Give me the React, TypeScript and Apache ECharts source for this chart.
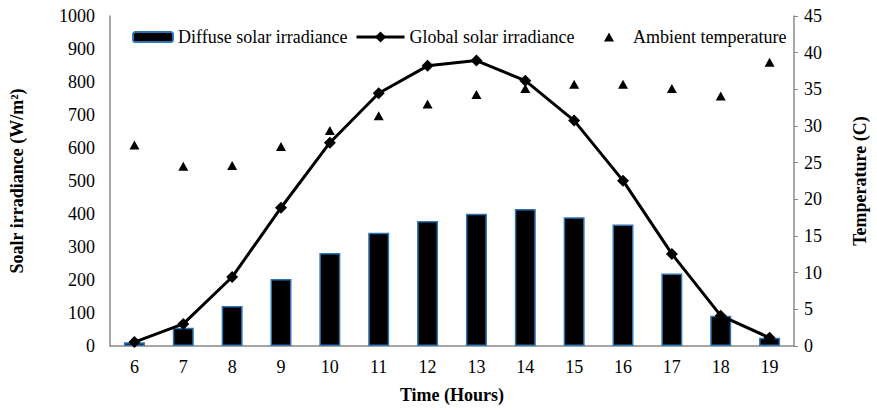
import React, { useEffect, useRef } from "react";
import * as echarts from "echarts";

const hours = ["6", "7", "8", "9", "10", "11", "12", "13", "14", "15", "16", "17", "18", "19"];
const diffuse = [11, 55, 121, 203, 282, 343, 379, 401, 415, 390, 368, 220, 92, 25];
const globalIrr = [12, 67, 209, 419, 616, 766, 849, 865, 804, 683, 501, 279, 92, 25];
const temperature = [27.4, 24.5, 24.6, 27.2, 29.4, 31.4, 33.0, 34.3, 35.1, 35.7, 35.7, 35.1, 34.1, 38.7];

const FONT = "Liberation Serif";
const AXIS = "#898989";

export default function App() {
  const ref = useRef<HTMLDivElement>(null);
  useEffect(() => {
    const chart = echarts.init(ref.current!, null, { renderer: "svg" });
    const legendText = { fontFamily: FONT, fontSize: 18, color: "#000" };
    const label = { fontFamily: FONT, fontSize: 18, color: "#000" };
    const title = { fontFamily: FONT, fontSize: 18, fontWeight: "bold", color: "#000" };
    chart.setOption({
      animation: false,
      textStyle: { fontFamily: FONT },
      grid: { left: 110, right: 77, top: 16, bottom: 64 },
      legend: [
        {
          data: ["Diffuse solar irradiance"],
          left: 132, top: 28, padding: 0, itemWidth: 40, itemHeight: 10,
          textStyle: legendText,
        },
        {
          data: ["Global solar irradiance"],
          left: 355, top: 28, padding: 0, itemWidth: 48, itemHeight: 14,
          lineStyle: { width: 3, color: "#000" },
          textStyle: legendText,
        },
        {
          data: [{ name: "Ambient temperature", icon: "triangle" }],
          left: 604, top: 28, padding: 0, itemWidth: 10, itemHeight: 9,
          textStyle: { ...legendText, padding: [0, 0, 0, 14] },
        },
      ],
      xAxis: {
        type: "category",
        data: hours,
        name: "Time (Hours)",
        nameLocation: "middle",
        nameGap: 40,
        nameTextStyle: title,
        axisLine: { lineStyle: { color: AXIS, width: 1.5 } },
        axisTick: { show: false },
        axisLabel: { ...label, margin: 12 },
      },
      yAxis: [
        {
          type: "value",
          min: 0, max: 1000, interval: 100,
          name: "Soalr irradiance (W/m²)",
          nameLocation: "middle",
          nameGap: 84,
          nameTextStyle: title,
          axisLine: { show: true, lineStyle: { color: AXIS, width: 1.5 } },
          axisTick: { show: false },
          splitLine: { show: false },
          axisLabel: { ...label, margin: 15, formatter: (v: number) => String(v) },
        },
        {
          type: "value",
          min: 0, max: 45, interval: 5,
          name: "Temperature (C)",
          nameLocation: "middle",
          nameGap: 57,
          nameTextStyle: title,
          axisLine: { show: true, lineStyle: { color: AXIS, width: 1.5 } },
          axisTick: { show: true, length: 4, lineStyle: { color: AXIS } },
          splitLine: { show: false },
          axisLabel: { ...label, margin: 10, formatter: (v: number) => String(v) },
        },
      ],
      series: [
        {
          name: "Diffuse solar irradiance",
          type: "bar",
          data: diffuse,
          barWidth: 21,
          itemStyle: { color: "#000", borderColor: "#2E75B6", borderWidth: 1.5 },
        },
        {
          name: "Global solar irradiance",
          type: "line",
          data: globalIrr,
          symbol: "diamond",
          symbolSize: 12,
          lineStyle: { color: "#000", width: 3 },
          itemStyle: { color: "#000" },
        },
        {
          name: "Ambient temperature",
          type: "scatter",
          yAxisIndex: 1,
          data: temperature,
          symbol: "triangle",
          symbolSize: [10, 9],
          itemStyle: { color: "#000", opacity: 1 },
        },
      ],
    });
    return () => chart.dispose();
  }, []);
  return <div ref={ref} style={{ width: 877, height: 410, position: "absolute", left: 0, top: 0 }} />;
}
